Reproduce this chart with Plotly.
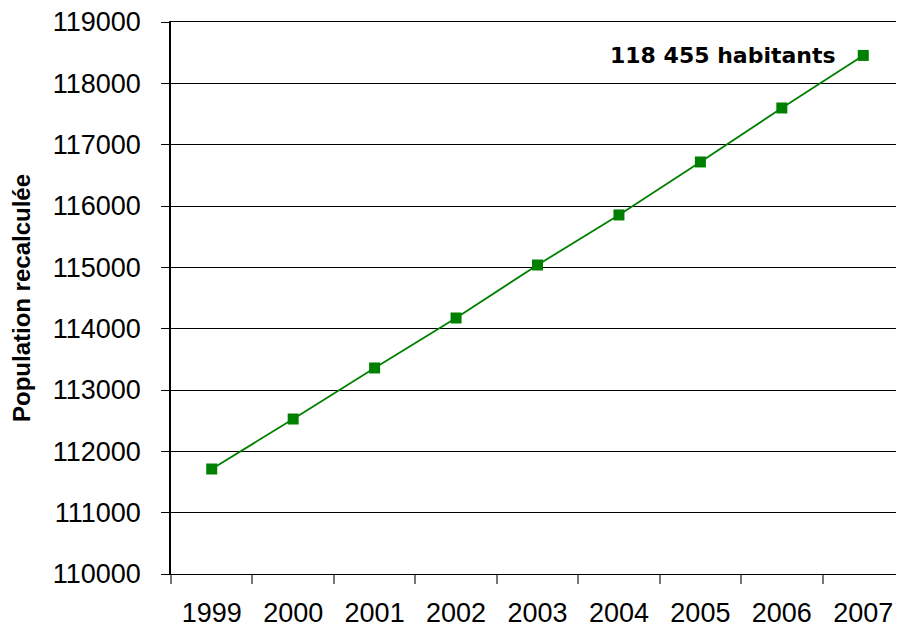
import plotly.graph_objects as go

years = ["1999", "2000", "2001", "2002", "2003", "2004", "2005", "2006", "2007"]
population = [111712, 112527, 113359, 114174, 115038, 115854, 116718, 117598, 118455]
y_ticks = [110000, 111000, 112000, 113000, 114000, 115000, 116000, 117000, 118000, 119000]
annotation_text = "118 455 habitants"

fig = go.Figure()
fig.add_trace(go.Scatter(
    x=years, y=population, mode="lines+markers",
    line=dict(color="#008000", width=1.8),
    marker=dict(symbol="square", size=11, color="#008000"),
    showlegend=False, hoverinfo="x+y",
))

fig.add_annotation(
    x=len(years) - 1, y=population[-1], text=f"<b>{annotation_text}</b>",
    showarrow=False, xanchor="right", yanchor="middle", xshift=-25,
    font=dict(family="DejaVu Sans", size=22, color="#000000"),
)

# page body has an 8px margin, so the figure is sized to fit the window
fig.update_layout(
    width=896, height=621,
    margin=dict(l=163, r=0, t=14, b=55),
    paper_bgcolor="white", plot_bgcolor="white",
    font=dict(family="Liberation Sans, Arial", color="#000000"),
)
fig.update_xaxes(
    type="category", range=[-0.5, len(years) - 0.5], showgrid=False, automargin=False,
    showline=True, linecolor="#000000", linewidth=1.2, mirror=True,
    ticks="outside", tickson="boundaries", ticklen=9, tickcolor="#777777", tickwidth=1.5,
    tickangle=0,
    tickfont=dict(size=27, family="Liberation Sans, Arial"), ticklabelstandoff=14,
)
fig.update_yaxes(
    range=[110000, 119000], tickvals=y_ticks, ticktext=[str(v) for v in y_ticks],
    showgrid=True, gridcolor="#000000", gridwidth=1, automargin=False,
    showline=True, linecolor="#000000", linewidth=1.5,
    ticks="outside", ticklen=8, tickcolor="#000000",
    tickfont=dict(size=27, family="Liberation Sans, Arial"), ticklabelstandoff=15,
    ticklabeloverflow="allow",
    title=dict(text="<b>Population recalculée</b>", font=dict(size=24, family="Liberation Sans, Arial"), standoff=20),
    zeroline=False,
)

fig.write_html("out.html")
